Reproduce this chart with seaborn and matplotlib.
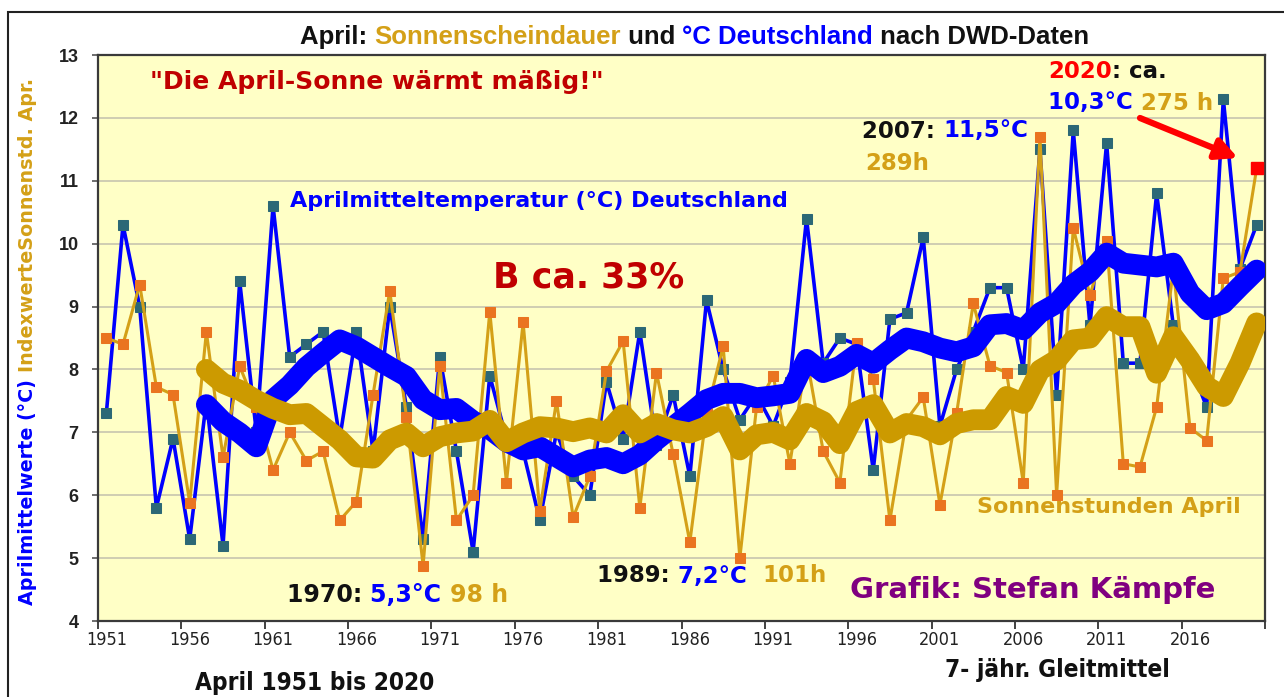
import numpy as np
import pandas as pd
import seaborn as sns
import matplotlib.pyplot as plt
from matplotlib.patches import Rectangle

# April data, Germany (DWD); sunshine shown as index values on the same axis
years = list(range(1951, 2021))
temp = [7.3, 10.3, 9.0, 5.8, 6.9, 5.3, 7.5, 5.2, 9.4, 7.0,
        10.6, 8.2, 8.4, 8.6, 6.9, 8.6, 6.7, 9.0, 7.4, 5.3,
        8.2, 6.7, 5.1, 7.9, 6.9, 6.7, 5.6, 7.0, 6.3, 6.0,
        7.8, 6.9, 8.6, 6.8, 7.6, 6.3, 9.1, 8.0, 7.2, 7.6,
        7.1, 7.8, 10.4, 8.1, 8.5, 8.4, 6.4, 8.8, 8.9, 10.1,
        7.1, 8.0, 8.6, 9.3, 9.3, 8.0, 11.5, 7.6, 11.8, 8.7,
        11.6, 8.1, 8.1, 10.8, 8.7, 8.1, 7.4, 12.3, 9.6, 10.3]
sun = [8.5, 8.4, 9.35, 7.72, 7.6, 5.88, 8.6, 6.6, 8.05, 7.4,
       6.4, 7.0, 6.55, 6.7, 5.6, 5.9, 7.6, 9.25, 7.25, 4.88,
       8.06, 5.6, 6.0, 8.92, 6.2, 8.75, 5.75, 7.5, 5.65, 6.3,
       7.97, 8.45, 5.8, 7.95, 6.65, 5.25, 7.3, 8.37, 5.0, 7.4,
       7.9, 6.5, 8.2, 6.7, 6.2, 8.42, 7.85, 5.6, 7.2, 7.56,
       5.85, 7.3, 9.05, 8.06, 7.95, 6.2, 11.7, 6.0, 10.25, 9.18,
       10.05, 6.5, 6.45, 7.4, 9.6, 7.07, 6.87, 9.45, 9.55, 11.2]

# 7-year running means as drawn in the chart (1957-2020)
ma_years = list(range(1957, 2021))
temp_ma = [7.44, 7.17, 6.99, 6.77, 7.52, 7.75, 8.04, 8.26, 8.47, 8.36,
           8.2, 8.04, 7.89, 7.52, 7.36, 7.38, 7.18, 7.05, 6.85, 6.72,
           6.77, 6.61, 6.45, 6.56, 6.6, 6.5, 6.64, 6.88, 7.09, 7.3,
           7.52, 7.62, 7.62, 7.55, 7.58, 7.62, 8.16, 7.95, 8.05, 8.24,
           8.1, 8.31, 8.5, 8.44, 8.34, 8.28, 8.36, 8.71, 8.73, 8.63,
           8.9, 9.05, 9.35, 9.55, 9.85, 9.69, 9.66, 9.63, 9.69, 9.21,
           8.95, 9.05, 9.32, 9.58]
sun_ma = [8.0, 7.78, 7.67, 7.51, 7.38, 7.28, 7.3, 7.09, 6.88, 6.61,
          6.59, 6.88, 6.99, 6.77, 6.93, 6.99, 7.02, 7.19, 6.85, 6.99,
          7.09, 7.07, 7.01, 7.07, 6.99, 7.28, 6.99, 7.14, 7.04, 6.99,
          7.09, 7.25, 6.72, 6.96, 7.0, 6.88, 7.3, 7.17, 6.82, 7.33,
          7.44, 6.99, 7.14, 7.09, 6.96, 7.14, 7.2, 7.2, 7.57, 7.46,
          7.99, 8.15, 8.47, 8.5, 8.84, 8.68, 8.68, 7.94, 8.52, 8.15,
          7.73, 7.57, 8.1, 8.74]

tick_years = [1951, 1956, 1961, 1966, 1971, 1976, 1981, 1986, 1991, 1996,
              2001, 2006, 2011, 2016]
y_ticks = [4, 5, 6, 7, 8, 9, 10, 11, 12, 13]

BLUE = '#0000ff'
TEAL = '#2c6876'
GOLD = '#d4a017'
GOLD_THICK = '#cc9a00'
ORANGE = '#ea7420'
DARKRED = '#c00000'
PURPLE = '#800080'

sns.set_theme(style='ticks')
plt.rcParams['font.family'] = ['Liberation Sans', 'DejaVu Sans']
NARROW = ['Liberation Sans Narrow', 'DejaVu Sans']
WIDE = ['DejaVu Sans']

fig = plt.figure(figsize=(12.84, 6.97), dpi=100)
ax = fig.add_axes([98 / 1284, 1 - 621 / 697, 1167 / 1284, 566 / 697])
ax.set_facecolor('#ffffc6')

df = pd.DataFrame({'Jahr': years, 'Temp': temp, 'Sonne': sun})
dfm = pd.DataFrame({'Jahr': ma_years, 'Temp': temp_ma, 'Sonne': sun_ma})

sns.lineplot(data=df, x='Jahr', y='Temp', ax=ax, color=BLUE, linewidth=2.6,
             marker='s', markersize=7.5, markerfacecolor=TEAL,
             markeredgecolor=TEAL, legend=False, zorder=3)
sns.lineplot(data=df, x='Jahr', y='Sonne', ax=ax, color=GOLD, linewidth=2.2,
             marker='s', markersize=7.5, markerfacecolor=ORANGE,
             markeredgecolor=ORANGE, legend=False, zorder=4)
sns.lineplot(data=dfm, x='Jahr', y='Temp', ax=ax, color=BLUE, linewidth=15,
             solid_capstyle='round', solid_joinstyle='round', legend=False, zorder=5)
sns.lineplot(data=dfm, x='Jahr', y='Sonne', ax=ax, color=GOLD_THICK, linewidth=15,
             solid_capstyle='round', solid_joinstyle='round', legend=False, zorder=6)
# 2020 value highlighted in red
ax.plot(years[-1], sun[-1], 's', color='red', markersize=9, zorder=7)

ax.set_xlim(1950.5, 2020.5)
ax.set_ylim(4, 13)
ax.set_xlabel('')
ax.set_ylabel('')
ax.yaxis.grid(True, color='#cbc9b0', linewidth=1.3)
ax.xaxis.grid(False)
ax.set_axisbelow(True)
for sp in ax.spines.values():
    sp.set_visible(True)
    sp.set_color('#3a3a3a')
    sp.set_linewidth(1.6)

ax.set_yticks(y_ticks)
ax.set_yticklabels([str(v) for v in y_ticks], fontsize=13, fontweight='bold',
                   color='#222222')
ax.tick_params(axis='y', length=4, width=1.2, color='#555555', pad=10, left=True)
ax.set_xticks(np.arange(1950.5, 2021, 5))
ax.tick_params(axis='x', which='major', length=6, width=1.3, color='#333333',
               labelbottom=False, bottom=True)
ax.set_xticks(tick_years, minor=True)
ax.set_xticklabels([str(v) for v in tick_years], minor=True, fontsize=13,
                   family=NARROW, fontstretch='condensed', color='#222222')
ax.tick_params(axis='x', which='minor', length=0, pad=7)


def chain(first, parts, size, rotation=0, family=None):
    t = first
    fam = family or plt.rcParams['font.family']
    for s, c in parts:
        if rotation:
            t = ax.annotate(s, xy=(0, 1), xycoords=t, ha='left', va='bottom',
                            rotation=90, color=c, fontsize=size,
                            fontweight='bold', family=fam)
        else:
            t = ax.annotate(s, xy=(1, 0), xycoords=t, ha='left', va='bottom',
                            color=c, fontsize=size, fontweight='bold', family=fam)
    return t


def ax_text(px, py, parts, size):
    x = (px - 98) / 1167
    y = (621 - py) / 566
    s, c = parts[0]
    t = ax.text(x, y, s, transform=ax.transAxes, color=c, fontsize=size,
                fontweight='bold', family=WIDE, ha='left', va='center', zorder=10)
    return chain(t, parts[1:], size, family=WIDE)


# title
t0 = fig.text(300 / 1284, 1 - 37 / 697, 'April: ', fontsize=18.5, fontweight='bold',
              color='#111111', ha='left', va='center')
chain(t0, [('Sonnenscheindauer', GOLD), (' und ', '#111111'),
           ('°C Deutschland', BLUE), (' nach DWD-Daten', '#111111')], 18.5)

# rotated axis label
yl = fig.text(28 / 1284, 1 - 605 / 697, 'Aprilmittelwerte (°C) ', rotation=90,
              fontsize=13.8, fontweight='bold', family=WIDE, color=BLUE,
              ha='center', va='bottom')
chain(yl, [('IndexwerteSonnenstd. Apr.', GOLD)], 13.8, rotation=90, family=WIDE)

ax_text(150, 82, [('"Die April-Sonne wärmt mäßig!"', DARKRED)], 18)
ax_text(290, 201, [('Aprilmitteltemperatur (°C) Deutschland', BLUE)], 16)
ax_text(493, 277, [('B ca. 33%', DARKRED)], 25)
ax_text(862, 131, [('2007: ', '#111111'), ('11,5°C', BLUE)], 16.5)
ax_text(865, 163, [('289h', GOLD)], 16.5)
ax_text(1048, 72, [('2020', 'red'), (': ca.', '#111111')], 16.5)
ax_text(1048, 103, [('10,3°C ', BLUE), ('275 h', GOLD)], 16.5)
ax_text(977, 507, [('Sonnenstunden April', GOLD)], 16)
ax_text(850, 590, [('Grafik: Stefan Kämpfe', PURPLE)], 21)
ax_text(287, 595, [('1970: ', '#111111'), ('5,3°C ', BLUE), ('98 h', GOLD)], 17)
ax_text(597, 576, [('1989: ', '#111111'), ('7,2°C  ', BLUE), ('101h', GOLD)], 16.5)

ax.annotate('', xy=((1238 - 98) / 1167, (621 - 158) / 566),
            xytext=((1140 - 98) / 1167, (621 - 118) / 566),
            xycoords='axes fraction', textcoords='axes fraction',
            arrowprops=dict(arrowstyle='-|>', color='red', lw=4.5,
                            mutation_scale=32, shrinkA=0, shrinkB=0), zorder=9)

fig.text(195 / 1284, 1 - 683 / 697, 'April 1951 bis 2020', fontsize=17.5,
         fontweight='bold', family=NARROW, fontstretch='condensed',
         color='#111111', ha='left', va='center')
fig.text(945 / 1284, 1 - 670 / 697, '7- jähr. Gleitmittel', fontsize=17.5,
         fontweight='bold', family=NARROW, fontstretch='condensed',
         color='#111111', ha='left', va='center')

# outer frame
fig.patches.append(Rectangle((8 / 1284, -0.1), 1.2, 1.1 - 12 / 697,
                             transform=fig.transFigure, fill=False,
                             edgecolor='#222222', linewidth=1.5))

fig.savefig('out.png', dpi=100)
